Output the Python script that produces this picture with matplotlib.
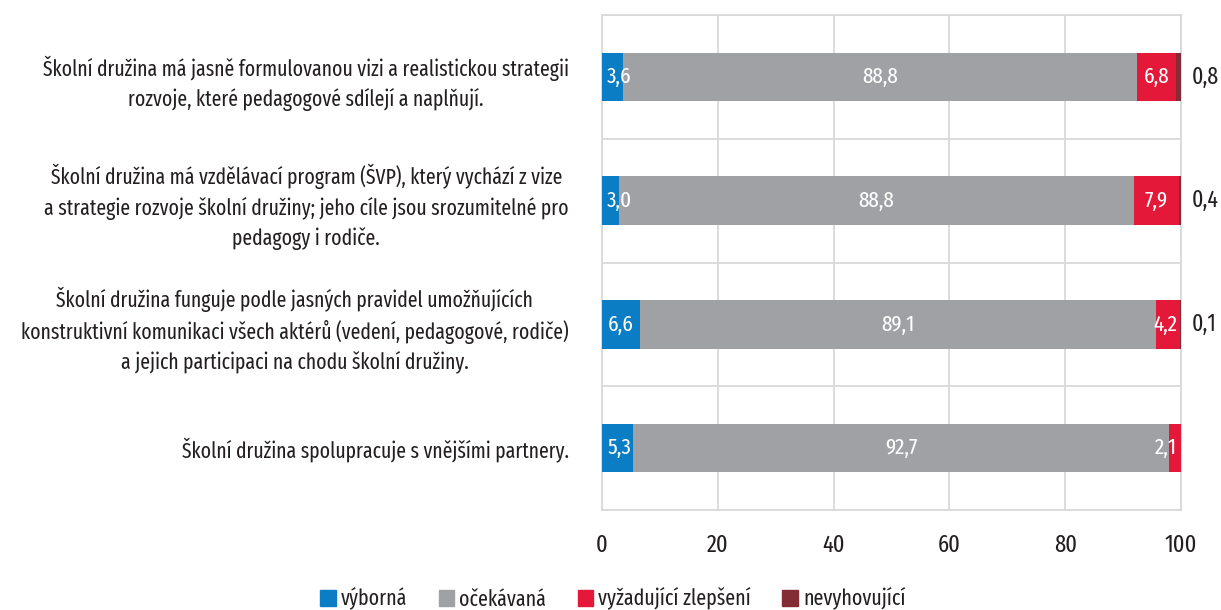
import numpy as np
import matplotlib.pyplot as plt
from matplotlib.patches import Patch

plt.rcParams['font.family'] = ['Fira Sans Extra Condensed', 'DejaVu Sans']

labels = [
    "Školní družina má jasně formulovanou vizi a realistickou strategii\nrozvoje, které pedagogové sdílejí a naplňují.",
    "Školní družina má vzdělávací program (ŠVP), který vychází z vize\na strategie rozvoje školní družiny; jeho cíle jsou srozumitelné pro\npedagogy i rodiče.",
    "Školní družina funguje podle jasných pravidel umožňujících\nkonstruktivní komunikaci všech aktérů (vedení, pedagogové, rodiče)\na jejich participaci na chodu školní družiny.",
    "Školní družina spolupracuje s vnějšími partnery.",
]
series_names = ["výborná", "očekávaná", "vyžadující zlepšení", "nevyhovující"]
vyborna = [3.6, 3.0, 6.6, 5.3]
ocekavana = [88.8, 88.8, 89.1, 92.7]
zlepseni = [6.8, 7.9, 4.2, 2.1]
nevyhovujici = [0.8, 0.4, 0.1, 0.0]
xticks = [0, 20, 40, 60, 80, 100]

colors = ['#0B7DC5', '#A0A1A5', '#E4193A', '#832C36']
txt = '#231F20'

fig = plt.figure(figsize=(12.21, 6.10), dpi=100)
ax = fig.add_axes([602/1221, 1 - 510/610, 579/1221, 495/610])

y = np.arange(len(labels))
left = np.zeros(len(labels))
for vals, col in zip([vyborna, ocekavana, zlepseni, nevyhovujici], colors):
    ax.barh(y, vals, left=left, height=0.39, color=col, zorder=3)
    left += np.array(vals)

# value labels (small ones are nudged so they stay inside the plot)
left = np.zeros(len(labels))
for k, vals in enumerate([vyborna, ocekavana, zlepseni, nevyhovujici]):
    for i, v in enumerate(vals):
        if v <= 0:
            continue
        s = f"{v:.1f}".replace('.', ',')
        if k == 3:
            ax.text(101.9, i, s, ha='left', va='center', fontsize=17, color=txt)
        else:
            xc = min(max(left[i] + v / 2, 3.0), 97.3)
            ax.text(xc, i, s, ha='center', va='center',
                    fontsize=16.5, color='white', zorder=4)
    left += np.array(vals)

ax.set_xlim(0, 100)
ax.set_ylim(len(labels) - 0.5, -0.5)
ax.set_xticks(xticks)
ax.set_xticklabels([str(t) for t in xticks], fontsize=17.5, color=txt)
ax.set_yticks(y)
ax.set_yticklabels(labels, fontsize=15.4, color=txt, multialignment='center')
for t in ax.get_yticklabels():
    t.set_linespacing(1.42)
ax.tick_params(axis='y', length=0, pad=24)
ax.tick_params(axis='x', length=0, pad=17)

ax.set_yticks(np.arange(-0.5, len(labels), 1), minor=True)
ax.tick_params(axis='y', which='minor', length=0)
ax.grid(axis='x', color='#D9D9D9', linewidth=1.3, zorder=0)
ax.grid(axis='y', which='minor', color='#D9D9D9', linewidth=1.3, zorder=0)
for sp in ax.spines.values():
    sp.set_color('#D9D9D9')
    sp.set_linewidth(1.3)

handles = [Patch(color=c) for c in colors]
fig.legend(handles, series_names, loc='center', bbox_to_anchor=(613/1221, 1 - 599/610),
           ncol=4, frameon=False, fontsize=15.6, handlelength=0.7, handleheight=0.7,
           handletextpad=0.25, columnspacing=1.45, labelcolor=txt)

fig.savefig('out.png', dpi=100)
